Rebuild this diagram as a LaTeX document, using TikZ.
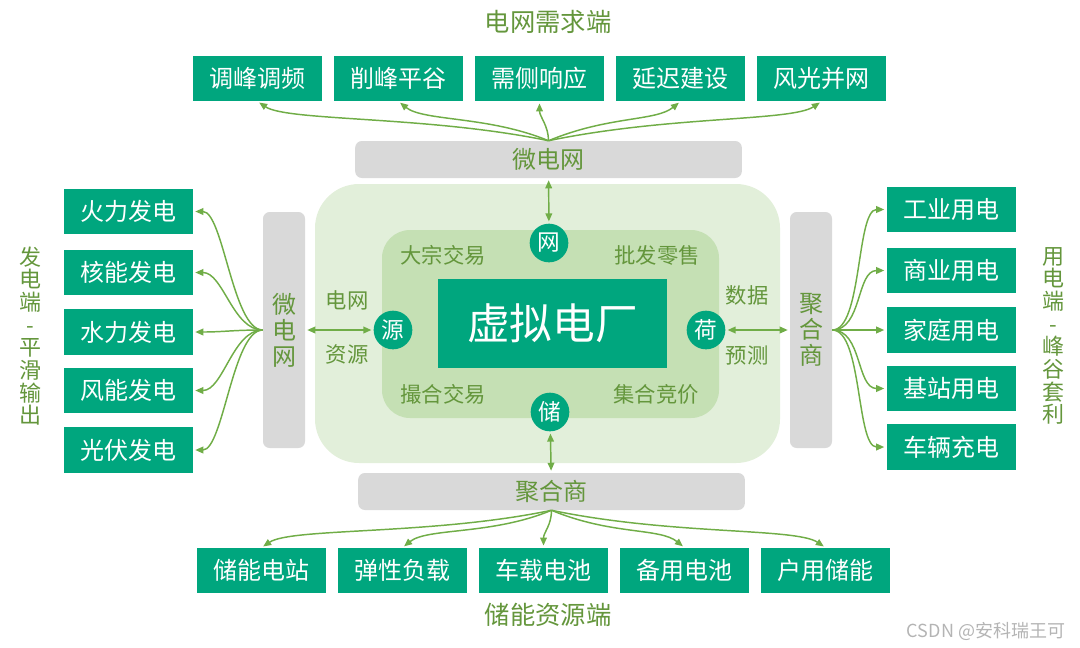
\documentclass[tikz,border=0pt]{standalone}
\usepackage{fontspec}
\setmainfont{Noto Sans CJK SC}
\usepackage{tikz}
\usetikzlibrary{arrows.meta}

\begin{document}
\begin{tikzpicture}[x=0.75pt,y=0.75pt,yscale=-1,xscale=1,
        gbox/.style={fill={rgb, 255:red, 0; green, 166; blue, 126}, text=white, minimum width=96.75pt, minimum height=34pt, inner sep=0pt, font=\fontsize{18}{20}\selectfont},
        greybar/.style={fill={rgb, 255:red, 217; green, 217; blue, 217}, rounded corners=5pt, inner sep=0pt, text={rgb, 255:red, 100; green, 150; blue, 60}, font=\fontsize{18}{19.5}\selectfont, align=center},
        hub/.style={circle, fill={rgb, 255:red, 0; green, 166; blue, 126}, text=white, minimum size=29pt, inner sep=0pt, font=\fontsize{17}{17}\selectfont},
        lbl/.style={text={rgb, 255:red, 100; green, 150; blue, 60}, inner sep=0.75pt, font=\fontsize{16}{18}\selectfont},
        ttl/.style={text={rgb, 255:red, 100; green, 150; blue, 60}, inner sep=0.75pt, font=\fontsize{19}{21}\selectfont, align=center},
        link/.style={draw={rgb, 255:red, 112; green, 173; blue, 71}, line width=1.1pt, shorten >=1.5pt, -{Triangle[length=6pt,width=5pt]}},
        dlink/.style={link, shorten <=1.5pt, {Triangle[length=6pt,width=5pt]}-{Triangle[length=6pt,width=5pt]}}
    ]
        \path (0,0) rectangle (1080,647);

        %Shape: Rounded Rect [id:outer]
        \draw [draw=none, fill={rgb, 255:red, 226; green, 239; blue, 218}, rounded corners=33pt] (315,184) rectangle (780,463) ;
        %Shape: Rounded Rect [id:inner]
        \draw [draw=none, fill={rgb, 255:red, 197; green, 224; blue, 180}, rounded corners=21pt] (382,230) rectangle (719,418) ;

        %Shape: Rectangle [id:vpp]
        \draw (552.5,323.5) node (vpp) [gbox, minimum width=171.75pt, minimum height=66.75pt, font=\fontsize{32}{34}\selectfont] {虚拟电厂};

        % Hubs
        \draw (549,243) node (wang) [hub] {网};
        \draw (393,330) node (yuan) [hub] {源};
        \draw (706,330) node (he) [hub] {荷};
        \draw (550,412) node (chu) [hub] {储};

        % Text Node
        \draw (443,255) node (t1) [lbl] {大宗交易};
        % Text Node
        \draw (657,255) node (t2) [lbl] {批发零售};
        % Text Node
        \draw (443,394) node (t3) [lbl] {撮合交易};
        % Text Node
        \draw (656,394) node (t4) [lbl] {集合竞价};
        % Text Node
        \draw (347,300) node (t5) [lbl] {电网};
        % Text Node
        \draw (347,354) node (t6) [lbl] {资源};
        % Text Node
        \draw (747,295) node (t7) [lbl] {数据};
        % Text Node
        \draw (747,355) node (t8) [lbl] {预测};

        % Bars
        \draw (548.5,159.5) node (tbar) [greybar, minimum width=290pt, minimum height=27.75pt] {微电网};
        \draw (551.5,491.5) node (bbar) [greybar, minimum width=290pt, minimum height=27.75pt] {聚合商};
        \draw (284,330) node (lbar) [greybar, minimum width=31.5pt, minimum height=177pt] {微\\电\\网};
        \draw (811,330) node (rbar) [greybar, minimum width=31.5pt, minimum height=177pt] {聚\\合\\商};

        % Top boxes
        \draw (257.5,78.5) node (d1) [gbox] {调峰调频};
        \draw (398.5,78.5) node (d2) [gbox] {削峰平谷};
        \draw (539.5,78.5) node (d3) [gbox] {需侧响应};
        \draw (680.5,78.5) node (d4) [gbox] {延迟建设};
        \draw (821.5,78.5) node (d5) [gbox] {风光并网};
        % Bottom boxes
        \draw (261.5,570.5) node (s1) [gbox] {储能电站};
        \draw (402.5,570.5) node (s2) [gbox] {弹性负载};
        \draw (543.5,570.5) node (s3) [gbox] {车载电池};
        \draw (684.5,570.5) node (s4) [gbox] {备用电池};
        \draw (825.5,570.5) node (s5) [gbox] {户用储能};
        % Left boxes
        \draw (128.5,211.5) node (g1) [gbox] {火力发电};
        \draw (128.5,272.5) node (g2) [gbox] {核能发电};
        \draw (128.5,332) node (g3) [gbox] {水力发电};
        \draw (128.5,390.5) node (g4) [gbox] {风能发电};
        \draw (128.5,450) node (g5) [gbox] {光伏发电};
        % Right boxes
        \draw (951,209.5) node (c1) [gbox] {工业用电};
        \draw (951,270.5) node (c2) [gbox] {商业用电};
        \draw (951,330) node (c3) [gbox] {家庭用电};
        \draw (951,388.5) node (c4) [gbox] {基站用电};
        \draw (951,447) node (c5) [gbox] {车辆充电};

        % Titles
        \draw (548,22) node (top) [ttl] {电网需求端};
        \draw (548,615) node (bot) [ttl] {储能资源端};
        \draw (30,336) node (lft) [ttl, font=\fontsize{16.5}{17}\selectfont] {发\\电\\端\\-\\平\\滑\\输\\出};
        \draw (1053,336) node (rgt) [ttl, font=\fontsize{16.5}{17}\selectfont] {用\\电\\端\\-\\峰\\谷\\套\\利};

        %Straight Lines
        \draw [dlink] (wang) -- (tbar);
        \draw [dlink] (chu) -- (bbar);
        \draw [dlink] (yuan) -- (lbar);
        \draw [dlink] (he) -- (rbar);

        %Curve Lines top
        \draw [link] (tbar.north) .. controls +(-120,-25) and +(30,20) .. (d1.south);
        \draw [link] (tbar.north) .. controls +(-60,-25) and +(25,20) .. (d2.south);
        \draw [link] (tbar.north) .. controls +(0,-15) and +(0,15) .. (d3.south);
        \draw [link] (tbar.north) .. controls +(60,-25) and +(-25,20) .. (d4.south);
        \draw [link] (tbar.north) .. controls +(120,-25) and +(-30,20) .. (d5.south);
        %Curve Lines bottom
        \draw [link] (bbar.south) .. controls +(-120,25) and +(30,-20) .. (s1.north);
        \draw [link] (bbar.south) .. controls +(-60,25) and +(25,-20) .. (s2.north);
        \draw [link] (bbar.south) .. controls +(0,15) and +(0,-15) .. (s3.north);
        \draw [link] (bbar.south) .. controls +(60,25) and +(-25,-20) .. (s4.north);
        \draw [link] (bbar.south) .. controls +(120,25) and +(-30,-20) .. (s5.north);
        %Curve Lines left
        \draw [link] (lbar.west) .. controls +(-30,0) and +(30,0) .. (g1.east);
        \draw [link] (lbar.west) .. controls +(-30,0) and +(30,0) .. (g2.east);
        \draw [link] (lbar.west) .. controls +(-30,0) and +(30,0) .. (g3.east);
        \draw [link] (lbar.west) .. controls +(-30,0) and +(30,0) .. (g4.east);
        \draw [link] (lbar.west) .. controls +(-30,0) and +(30,0) .. (g5.east);
        %Curve Lines right
        \draw [link] (rbar.east) .. controls +(30,0) and +(-30,0) .. (c1.west);
        \draw [link] (rbar.east) .. controls +(30,0) and +(-30,0) .. (c2.west);
        \draw [link] (rbar.east) .. controls +(30,0) and +(-30,0) .. (c3.west);
        \draw [link] (rbar.east) .. controls +(30,0) and +(-30,0) .. (c4.west);
        \draw [link] (rbar.east) .. controls +(30,0) and +(-30,0) .. (c5.west);

        % Text Node
        \draw (986,631) node (mark) [inner sep=0.75pt, text={rgb, 255:red, 180; green, 180; blue, 180}, font=\fontsize{13.5}{15}\selectfont] {CSDN @安科瑞王可};

    \end{tikzpicture}
\end{document}
